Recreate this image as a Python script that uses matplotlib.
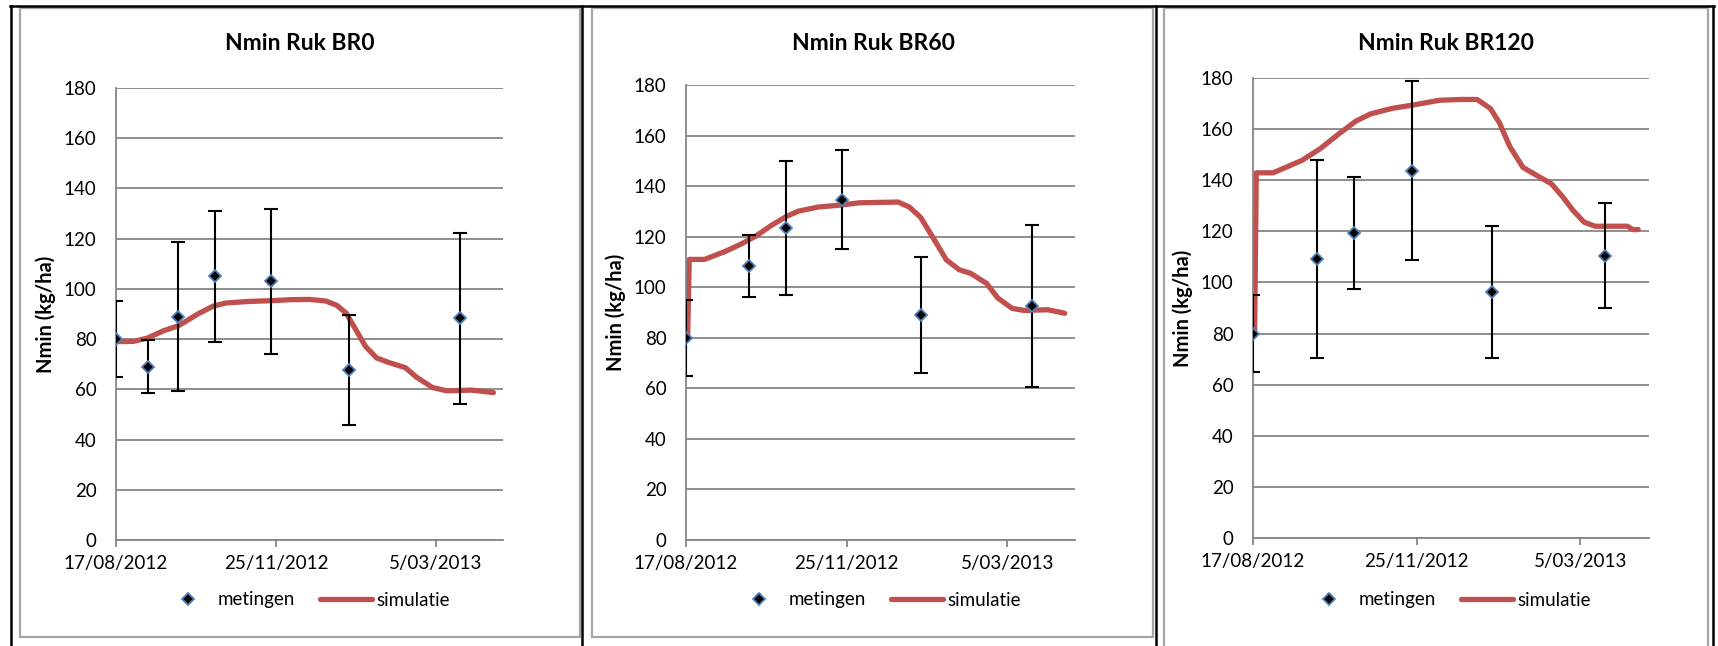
import pandas as pd
import matplotlib
matplotlib.use("Agg")
import matplotlib.pyplot as plt
import matplotlib.dates as mdates
from matplotlib.ticker import FuncFormatter, MultipleLocator
from matplotlib.lines import Line2D
from matplotlib.patches import Rectangle

plt.rcParams["font.family"] = ["Lato", "DejaVu Sans"]

START = pd.Timestamp("2012-08-17")
AXIS_DAYS = 242

TITLES = ["Nmin Ruk BR0", "Nmin Ruk BR60", "Nmin Ruk BR120"]
YLABEL = "Nmin (kg/ha)"
LEGEND_LABELS = ["metingen", "simulatie"]

# measurements (metingen) with error bar half-widths
br0_dates = ["2012-08-17", "2012-09-06", "2012-09-25", "2012-10-18", "2012-11-22", "2013-01-10", "2013-03-20"]
br0_vals = [80, 69, 89, 105, 103, 67.6, 88.3]
br0_err = [15, 10.5, 29.5, 26, 29, 22, 34]

br60_dates = ["2012-08-17", "2012-09-25", "2012-10-18", "2012-11-22", "2013-01-10", "2013-03-20"]
br60_vals = [80, 108.3, 123.5, 134.7, 88.9, 92.5]
br60_err = [15, 12.3, 26.5, 19.7, 23, 32]

br120_dates = ["2012-08-17", "2012-09-25", "2012-10-18", "2012-11-22", "2013-01-10", "2013-03-20"]
br120_vals = [80, 109.2, 119.4, 143.7, 96.2, 110.5]
br120_err = [15, 38.7, 22, 35, 25.7, 20.6]

# simulation (simulatie), days after 17/08/2012
br0_sim_days = [2, 11, 19.6, 30, 39, 52, 61, 69, 83, 97, 109, 121, 131, 138, 144, 150, 156, 163,
                171, 181, 188, 198, 207, 222, 236]
br0_sim_vals = [79.0, 79.1, 80.4, 83.4, 85.3, 90.3, 93.2, 94.4, 95.0, 95.3, 95.7, 95.8, 95.2, 93.5,
                90.3, 83.7, 77.1, 72.5, 70.6, 68.6, 64.8, 60.7, 59.4, 59.7, 58.7]

br60_sim_days = [1, 2, 11.5, 16, 24.5, 34, 43.6, 53, 62.7, 70, 82, 96, 108, 132, 139, 146, 153,
                 162, 170, 177, 187, 194, 203, 210.5, 225, 235.6]
br60_sim_vals = [80, 111, 111, 112.1, 114.2, 117, 120.3, 124.4, 128.1, 130.1, 131.7, 132.5, 133.4,
                 133.7, 131.7, 127.6, 120.3, 110.8, 106.9, 105.5, 101.5, 95.7, 91.6, 90.8, 91.1, 89.7]

br120_sim_days = [1, 2, 12.3, 21, 30, 41, 52, 63, 72, 85, 98.5, 114, 127, 137, 145, 150.4, 157,
                  165, 173.6, 182.4, 189, 195.7, 202.3, 209, 228.8, 232, 235.4]
br120_sim_vals = [80, 142.9, 142.9, 145.3, 147.8, 152.3, 157.9, 163.2, 166, 168.1, 169.5, 171.3,
                  171.6, 171.6, 168.1, 162.7, 153.1, 145, 141.8, 138.6, 133.7, 128.1, 123.6, 122,
                  122, 120.7, 120.7]

W, H = 1718, 646
RED = "#C0504D"
GRID = "#868686"
FS = 13.5  # tick / legend font size (pt)


def px_axes(fig, left, right, top, bottom):
    return fig.add_axes([left / W, 1 - bottom / H, (right - left) / W, (bottom - top) / H])


def date_fmt(x, pos):
    d = mdates.num2date(x)
    return f"{d.day}/{d.month:02d}/{d.year}"


def panel(fig, box, title_x, title, dates, vals, err, sim_days, sim_vals):
    left, right, top, bottom = box
    ax = px_axes(fig, left, right, top, bottom)
    x_meas = pd.to_datetime(dates)
    x_sim = START + pd.to_timedelta(sim_days, unit="D")

    ax.errorbar(x_meas, vals, yerr=err, fmt="none", ecolor="black", elinewidth=1.5,
                capsize=4.7, capthick=1.5, zorder=3)
    ax.plot(x_sim, sim_vals, color=RED, lw=3.8, solid_capstyle="round", zorder=2,
            label=LEGEND_LABELS[1])
    ax.plot(x_meas, vals, "D", ms=6.5, mfc="black", mec="#4F81BD", mew=1.3, zorder=4,
            label=LEGEND_LABELS[0])

    ax.set_ylim(0, 180)
    ax.yaxis.set_major_locator(MultipleLocator(20))
    ax.set_xlim(START, START + pd.Timedelta(days=AXIS_DAYS))
    ax.set_xticks([START, START + pd.Timedelta(days=100), START + pd.Timedelta(days=200)])
    ax.xaxis.set_major_formatter(FuncFormatter(date_fmt))

    ax.grid(axis="y", color=GRID, lw=1.3)
    ax.set_axisbelow(True)
    for s in ["top", "right"]:
        ax.spines[s].set_visible(False)
    for s in ["left", "bottom"]:
        ax.spines[s].set_color(GRID)
        ax.spines[s].set_linewidth(1.3)
    ax.tick_params(axis="y", length=0, pad=14, labelsize=FS)
    ax.tick_params(axis="x", length=5, width=1.3, color=GRID, pad=6, labelsize=FS)

    fig.text(title_x / W, 1 - 43 / H, title, ha="center", va="center",
             fontsize=16.5, fontweight="bold")
    fig.text((left - 70) / W, 1 - (top + bottom) / 2 / H, YLABEL, rotation=90,
             ha="center", va="center", fontsize=14.5, fontweight="bold")

    handles, labels = ax.get_legend_handles_labels()
    order = [1, 0]
    fs_px = FS * 100 / 72
    ax.legend([handles[i] for i in order], [labels[i] for i in order], ncol=2,
              loc="center", bbox_to_anchor=((left + right) / 2 / W - 4 / W, 1 - 600 / H),
              bbox_transform=fig.transFigure, frameon=False, fontsize=FS,
              handlelength=52 / fs_px, handletextpad=4 / fs_px, columnspacing=25 / fs_px,
              borderpad=0, borderaxespad=0)
    return ax


fig = plt.figure(figsize=(W / 100, H / 100), dpi=100)

# chart area frames
frame = fig.add_axes([0, 0, 1, 1])
frame.set_xlim(0, W)
frame.set_ylim(H, 0)
frame.axis("off")
for x0, x1, y1 in [(20, 580, 637), (592, 1153, 637), (1164, 1708, 652)]:
    frame.add_patch(Rectangle((x0, 7.5), x1 - x0, y1 - 7.5, fill=False, ec="#A6A6A6", lw=1.6))
frame.add_line(Line2D([10, 1714], [6, 6], color="black", lw=1.8))
for xv in [11, 582, 1156, 1713]:
    frame.add_line(Line2D([xv, xv], [6, H], color="black", lw=1.8))

panel(fig, (116, 503, 88, 540), 300, TITLES[0], br0_dates, br0_vals, br0_err,
      br0_sim_days, br0_sim_vals)
panel(fig, (686, 1075, 85, 540), 873, TITLES[1], br60_dates, br60_vals, br60_err,
      br60_sim_days, br60_sim_vals)
panel(fig, (1253, 1649, 78, 538), 1446, TITLES[2], br120_dates, br120_vals, br120_err,
      br120_sim_days, br120_sim_vals)

fig.savefig("out.png", dpi=100)
